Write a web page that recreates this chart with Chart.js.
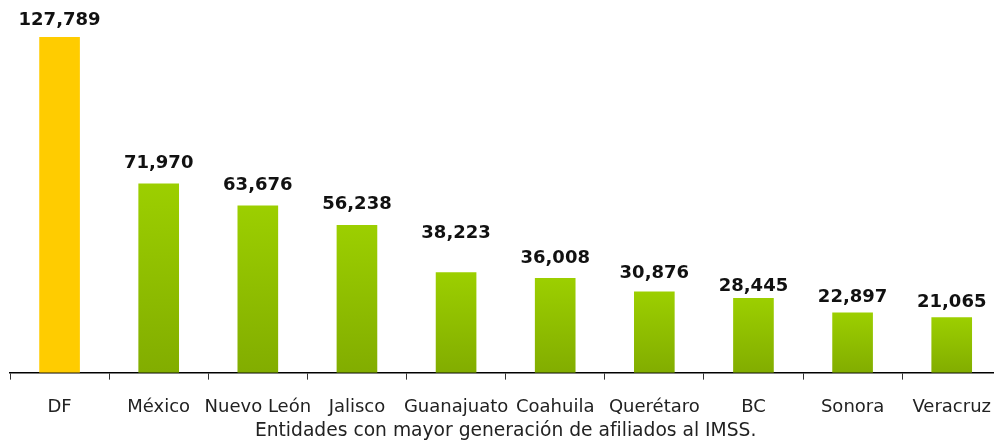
<!DOCTYPE html>
<html lang="es">
<head>
    <meta charset="UTF-8">
    <title>Afiliados IMSS</title>
    <script src="https://cdn.jsdelivr.net/npm/chart.js"></script>
    <style>
        html, body {
            margin: 0;
            padding: 0;
            background: #ffffff;
            overflow: hidden;
        }

        #afiliadosChart {
            display: block;
        }
    </style>
</head>
<body>
    <canvas id="afiliadosChart" width="1009" height="444"></canvas>

    <script>
        const estados = ['DF', 'México', 'Nuevo León', 'Jalisco', 'Guanajuato', 'Coahuila', 'Querétaro', 'BC', 'Sonora', 'Veracruz'];
        const afiliados = [127789, 71970, 63676, 56238, 38223, 36008, 30876, 28445, 22897, 21065];
        const ejeTitulo = 'Entidades con mayor generación de afiliados al IMSS.';

        // gap in px between bar top and its number (the original places them unevenly)
        const labelGap = [12, 16, 15, 16, 34, 15, 14, 7, 10, 10];

        const textColor = '#222222';
        const font = 'DejaVu Sans, Verdana, sans-serif';

        // per-bar gradient: yellow for DF, green for the rest
        function barColor(ctx) {
            if (ctx.dataIndex === 0) return '#ffcc00';
            const chart = ctx.chart;
            if (!chart.chartArea) return '#8fbd00';
            const y = chart.scales.y;
            const top = y.getPixelForValue(ctx.raw);
            const base = y.getPixelForValue(0);
            const g = chart.ctx.createLinearGradient(0, top, 0, base);
            g.addColorStop(0, '#9ccf00');
            g.addColorStop(1, '#82ad00');
            return g;
        }

        // numbers above the bars
        const valueLabels = {
            id: 'valueLabels',
            afterDatasetsDraw(chart) {
                const c = chart.ctx;
                const meta = chart.getDatasetMeta(0);
                c.save();
                c.font = 'bold 18px ' + font;
                c.fillStyle = '#111111';
                c.textAlign = 'center';
                c.textBaseline = 'alphabetic';
                meta.data.forEach((bar, i) => {
                    c.fillText(afiliados[i].toLocaleString('en-US'), bar.x, bar.y - labelGap[i]);
                });
                c.restore();
            }
        };

        new Chart(document.getElementById('afiliadosChart'), {
            type: 'bar',
            data: {
                labels: estados,
                datasets: [{
                    data: afiliados,
                    backgroundColor: barColor,
                    borderWidth: 0,
                    barPercentage: 0.41,
                    categoryPercentage: 1
                }]
            },
            options: {
                responsive: false,
                animation: false,
                layout: { padding: { left: 10, right: 0, top: 37, bottom: 3 } },
                plugins: {
                    legend: { display: false },
                    tooltip: { enabled: false }
                },
                scales: {
                    y: {
                        display: false,
                        min: 0,
                        max: 127789
                    },
                    x: {
                        border: { display: true, color: '#000000', width: 1.5 },
                        grid: {
                            display: true,
                            offset: true,
                            drawOnChartArea: false,
                            drawTicks: true,
                            tickLength: 7,
                            color: '#333333'
                        },
                        ticks: {
                            color: textColor,
                            padding: 18,
                            maxRotation: 0,
                            autoSkip: false,
                            font: { family: font, size: 18, lineHeight: 1.1 }
                        },
                        title: {
                            display: true,
                            text: ejeTitulo,
                            color: textColor,
                            padding: { top: -15, bottom: 0 },
                            font: { family: font, size: 18.7, lineHeight: 1.1 }
                        }
                    }
                }
            },
            plugins: [valueLabels]
        });
    </script>
</body>
</html>
